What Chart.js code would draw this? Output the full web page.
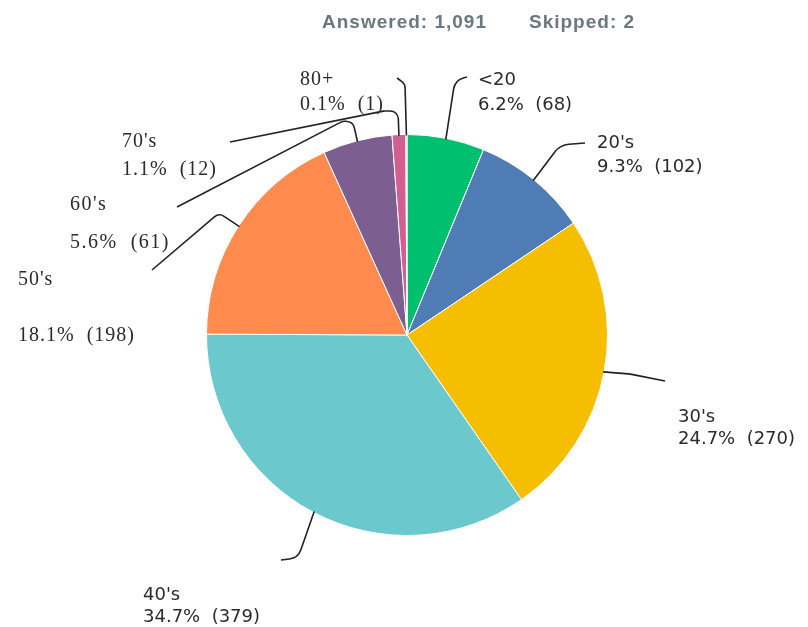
<!doctype html>
<html>

<head>
	<title>Age groups</title>
	<style>
		body {
			margin: 0;
			background: #fff;
		}

		canvas {
			display: block;
		}
	</style>
	<script src="https://cdn.jsdelivr.net/npm/chart.js@4.4.0/dist/chart.umd.min.js"></script>
</head>

<body>
	<canvas id="ages" width="808" height="627"></canvas>
	<script>
		"use strict";
		const categories = ["<20", "20's", "30's", "40's", "50's", "60's", "70's", "80+"];
		const counts = [68, 102, 270, 379, 198, 61, 12, 1];
		const percents = ["6.2%", "9.3%", "24.7%", "34.7%", "18.1%", "5.6%", "1.1%", "0.1%"];
		const answered = "1,091";
		const skipped = "2";

		const colors = ["#00BF6F", "#507CB6", "#F6BE00", "#6BC8CD", "#FF8B4F", "#7D5E90", "#D25F90", "#B8B8B8"];

		// where each callout sits: text left/baselines, and the bends of its leader line
		const SANS = "18px 'DejaVu Sans'";
		const SERIF = "20px 'Liberation Serif'";
		const callouts = [
			{ x: 478, y1: 85, y2: 110, font: SANS, sp: 0, r: 14, path: [[455, 80], [467, 77]] },
			{ x: 597, y1: 148, y2: 172, font: SANS, sp: 0, r: 20, path: [[560, 145], [585, 143]] },
			{ x: 678, y1: 422, y2: 444, font: SANS, sp: 0, r: 30, path: [[630, 374], [665, 381]] },
			{ x: 143, y1: 600, y2: 622, font: SANS, sp: 0, r: 14, path: [[298, 558], [281, 560]] },
			{ x: 18, y1: 285, y2: 341, font: SERIF, sp: 1, r: 8, path: [[219, 213], [152, 270]] },
			{ x: 70, y1: 210, y2: 248, font: SERIF, sp: 1.5, r: 8, path: [[353, 122], [343, 121], [177, 207]] },
			{ x: 122, y1: 147, y2: 175, font: SERIF, sp: 1, r: 8, path: [[398, 111], [384, 111], [230, 142]] },
			{ x: 300, y1: 85, y2: 110, font: SERIF, sp: 1, r: 8, path: [[405, 84], [397, 78]] }
		];

		const calloutPlugin = {
			id: "callouts",
			afterDatasetsDraw(chart) {
				const ctx = chart.ctx;
				const arcs = chart.getDatasetMeta(0).data;
				ctx.save();
				ctx.strokeStyle = "#222";
				ctx.lineWidth = 1.6;
				ctx.fillStyle = "#2b2b2b";
				callouts.forEach((c, i) => {
					const a = arcs[i].getProps(["x", "y", "startAngle", "endAngle", "outerRadius"]);
					const mid = (a.startAngle + a.endAngle) / 2;
					const pts = [[a.x + Math.cos(mid) * (a.outerRadius - 1), a.y + Math.sin(mid) * (a.outerRadius - 1)]].concat(c.path);
					ctx.beginPath();
					ctx.moveTo(pts[0][0], pts[0][1]);
					for (let k = 1; k < pts.length - 1; k++)
						ctx.arcTo(pts[k][0], pts[k][1], pts[k + 1][0], pts[k + 1][1], c.r);
					ctx.lineTo(pts[pts.length - 1][0], pts[pts.length - 1][1]);
					ctx.stroke();

					ctx.font = c.font;
					ctx.letterSpacing = c.sp + "px";
					ctx.textBaseline = "alphabetic";
					ctx.textAlign = "left";
					ctx.fillText(categories[i], c.x, c.y1);
					ctx.fillText(percents[i] + "  (" + counts[i] + ")", c.x, c.y2);
				});

				ctx.letterSpacing = "1px";
				ctx.font = "bold 19px 'Liberation Sans'";
				ctx.fillStyle = "#6B787F";
				ctx.fillText("Answered: " + answered, 322, 28);
				ctx.fillText("Skipped: " + skipped, 529, 28);
				ctx.restore();
			}
		};

		const chart = new Chart(document.getElementById("ages"), {
			type: "pie",
			data: {
				labels: categories,
				datasets: [{
					data: counts,
					backgroundColor: colors,
					borderColor: "#fff",
					borderWidth: 1
				}]
			},
			options: {
				responsive: false,
				animation: false,
				layout: {
					padding: { top: 134, bottom: 91, left: 206, right: 200 }
				},
				plugins: {
					legend: { display: false },
					tooltip: { enabled: false }
				}
			},
			plugins: [calloutPlugin]
		});
	</script>
</body>

</html>
